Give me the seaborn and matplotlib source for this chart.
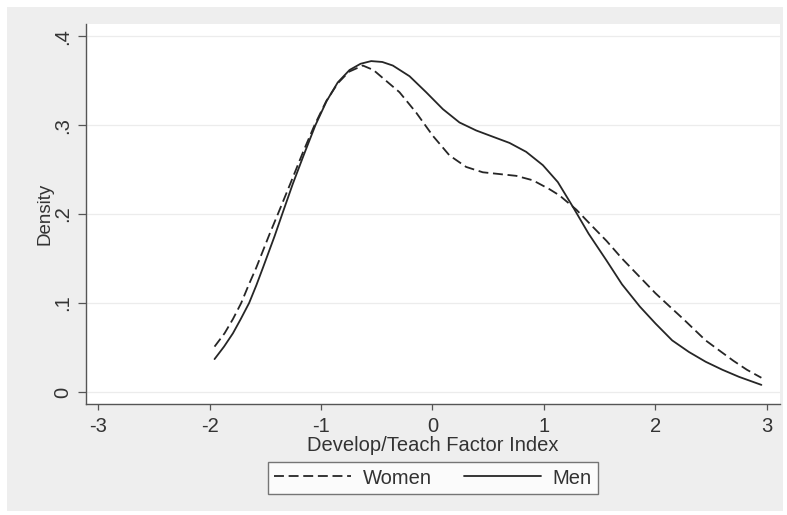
import matplotlib
matplotlib.use("Agg")
import matplotlib.pyplot as plt
from matplotlib.patches import Rectangle
from matplotlib.lines import Line2D
import seaborn as sns
import pandas as pd

# ---- data ----
men_x = [-1.955, -1.87, -1.79, -1.72, -1.645, -1.58, -1.52, -1.417, -1.348, -1.253,
         -1.15, -1.05, -0.95, -0.85, -0.744, -0.645, -0.55, -0.45, -0.356, -0.206,
         -0.057, 0.093, 0.242, 0.392, 0.541, 0.691, 0.840, 0.99, 1.124, 1.26,
         1.40, 1.48, 1.56, 1.70, 1.86, 2.00, 2.15, 2.30, 2.45, 2.60, 2.75, 2.95]
men_y = [0.037, 0.051, 0.066, 0.082, 0.100, 0.120, 0.140, 0.175, 0.200, 0.234,
         0.268, 0.300, 0.327, 0.348, 0.362, 0.369, 0.372, 0.371, 0.367, 0.355,
         0.337, 0.318, 0.303, 0.294, 0.287, 0.280, 0.270, 0.255, 0.236, 0.208,
         0.178, 0.163, 0.148, 0.121, 0.096, 0.077, 0.058, 0.045, 0.034, 0.025, 0.017, 0.008]
women_x = [-1.955, -1.865, -1.79, -1.716, -1.65, -1.58, -1.46, -1.387, -1.276, -1.157,
           -1.058, -0.953, -0.85, -0.75, -0.625, -0.53, -0.446, -0.296, -0.146, 0.003,
           0.152, 0.302, 0.451, 0.601, 0.751, 0.900, 1.049, 1.139, 1.29, 1.42,
           1.56, 1.70, 1.80, 1.90, 2.00, 2.12, 2.25, 2.35, 2.45, 2.58, 2.70, 2.82, 2.95]
women_y = [0.051, 0.066, 0.082, 0.100, 0.120, 0.140, 0.178, 0.200, 0.234, 0.271,
           0.300, 0.327, 0.347, 0.360, 0.367, 0.362, 0.353, 0.337, 0.314, 0.288,
           0.266, 0.253, 0.247, 0.245, 0.243, 0.238, 0.228, 0.221, 0.205, 0.188,
           0.170, 0.150, 0.137, 0.124, 0.111, 0.097, 0.082, 0.070, 0.058, 0.046, 0.035, 0.025, 0.016]
series_names = ["Women", "Men"]
x_ticks = [-3, -2, -1, 0, 1, 2, 3]
x_tick_labels = ["-3", "-2", "-1", "0", "1", "2", "3"]
y_ticks = [0, 0.1, 0.2, 0.3, 0.4]
y_tick_labels = ["0", ".1", ".2", ".3", ".4"]
x_title = "Develop/Teach Factor Index"
y_title = "Density"

df = pd.concat([
    pd.DataFrame({"x": women_x, "y": women_y, "group": series_names[0]}),
    pd.DataFrame({"x": men_x, "y": men_y, "group": series_names[1]}),
], ignore_index=True)

sns.set_theme(style="white")
plt.rcParams["font.family"] = ["Liberation Sans", "DejaVu Sans"]
plt.rcParams["axes.unicode_minus"] = False

W, H = 787, 515
FS = 14.5
fig = plt.figure(figsize=(W / 100, H / 100), dpi=100, facecolor="white")
bg = Rectangle((7 / W, 1 - 511 / H), (783 - 7) / W, (511 - 7) / H,
               transform=fig.transFigure, facecolor="#eeeeee",
               edgecolor="none", zorder=-10)
fig.add_artist(bg)
left, right, top, bottom = 86, 780, 24, 404
ax = fig.add_axes([left / W, 1 - bottom / H, (right - left) / W, (bottom - top) / H],
                  zorder=1)
ax.set_facecolor("white")

line_color = "#262626"
sns.lineplot(data=df, x="x", y="y", hue="group", style="group",
             palette={series_names[0]: line_color, series_names[1]: line_color},
             dashes={series_names[0]: (5.5, 2.6), series_names[1]: ""},
             linewidth=1.3, sort=False, legend=False, ax=ax)
for ln in ax.get_lines():
    ln.set_solid_joinstyle("round")
    ln.set_dash_joinstyle("round")

ax.set_xlim(-3.108, 3.117)
ax.set_ylim(-0.0135, 0.4137)
ax.set_xticks(x_ticks)
ax.set_xticklabels(x_tick_labels)
ax.set_yticks(y_ticks)
ax.set_yticklabels(y_tick_labels, rotation=90, va="center")
for g in y_ticks:
    ax.axhline(g, color="#ececec", lw=0.9, zorder=0)

for s in ["top", "right"]:
    ax.spines[s].set_visible(False)
for s in ["left", "bottom"]:
    ax.spines[s].set_color("#555555")
    ax.spines[s].set_linewidth(1.0)
ax.tick_params(axis="both", which="major", direction="out", width=0.9,
               color="#555555", labelsize=FS, labelcolor="#333333",
               left=True, bottom=True)
ax.tick_params(axis="x", pad=5, length=4.5)
ax.tick_params(axis="y", pad=4, length=6)
ax.set_xlabel(x_title, fontsize=FS, color="#333333", labelpad=0)
ax.set_ylabel(y_title, fontsize=13.5, color="#333333", labelpad=0)

handles = [Line2D([], [], color=line_color, lw=1.3, dashes=(5.5, 2.6)),
           Line2D([], [], color=line_color, lw=1.3)]
leg = fig.legend(handles, series_names, loc="center",
                 bbox_to_anchor=(433 / W, 1 - 478 / H), ncol=2, frameon=True,
                 fancybox=False, handlelength=3.8, handletextpad=0.6,
                 columnspacing=1.6, fontsize=FS, borderpad=0.3,
                 borderaxespad=0)
leg.get_frame().set_edgecolor("#555555")
leg.get_frame().set_linewidth(1.0)
leg.get_frame().set_facecolor("white")
for t in leg.get_texts():
    t.set_color("#333333")

fig.savefig("out.png", dpi=100, facecolor=fig.get_facecolor())
